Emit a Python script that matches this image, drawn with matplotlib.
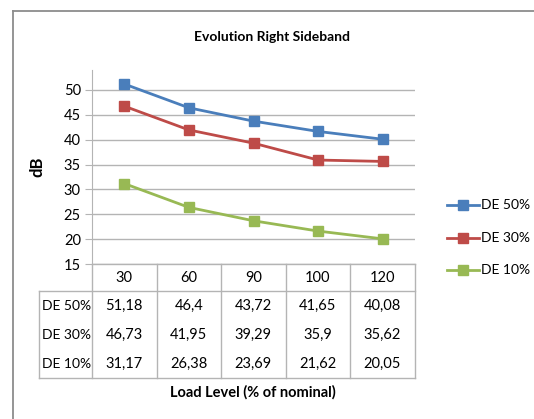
import matplotlib
matplotlib.use("Agg")
import matplotlib.pyplot as plt
from matplotlib.lines import Line2D

plt.rcParams['font.family'] = ['Lato', 'DejaVu Sans']

loads = ["30", "60", "90", "100", "120"]
series_names = ["DE 50%", "DE 30%", "DE 10%"]
de50 = [51.18, 46.4, 43.72, 41.65, 40.08]
de30 = [46.73, 41.95, 39.29, 35.9, 35.62]
de10 = [31.17, 26.38, 23.69, 21.62, 20.05]
yticks = [15, 20, 25, 30, 35, 40, 45, 50]
colors = ["#4a7ebb", "#be4b48", "#98b954"]

W, H = 534, 419
fig = plt.figure(figsize=(W / 100, H / 100), dpi=100)


def fx(px):
    return px / W


def fy(py):
    return 1 - py / H


def hline(x0, x1, y, color="#b4b4b4", lw=1.0):
    fig.add_artist(Line2D([fx(x0), fx(x1)], [fy(y), fy(y)], color=color, lw=lw,
                          transform=fig.transFigure))


def vline(x, y0, y1, color="#b4b4b4", lw=1.0):
    fig.add_artist(Line2D([fx(x), fx(x)], [fy(y0), fy(y1)], color=color, lw=lw,
                          transform=fig.transFigure))


# chart frame
hline(13, W + 5, 11, color="#8c8c8c", lw=1.3)
vline(13, 11, H + 5, color="#8c8c8c", lw=1.3)

left, right, top, bottom = 92, 415, 70, 264
ax = fig.add_axes([fx(left), fy(bottom), fx(right - left), (bottom - top) / H])

all_series = [de50, de30, de10]
x = list(range(len(loads)))
for vals, name, c in zip(all_series, series_names, colors):
    ax.plot(x, vals, color=c, lw=2.0, marker="s", markersize=6.5, label=name,
            solid_capstyle="round", zorder=3)

ax.set_xlim(-0.5, len(loads) - 0.5)
ax.set_ylim(15, 54)
ax.set_yticks(yticks)
ax.set_yticklabels([str(t) for t in yticks], fontsize=10.5)
ax.set_xticks([])
ax.grid(axis="y", color="#b4b4b4", lw=1.0)
ax.set_axisbelow(True)
for s in ["top", "right", "bottom"]:
    ax.spines[s].set_visible(False)
ax.spines["left"].set_color("#b4b4b4")
ax.tick_params(axis="y", length=5, color="#b4b4b4", pad=3)

ax.set_ylabel("dB", fontsize=12, fontweight="bold", labelpad=13)
fig.text(fx(272), fy(37), "Evolution Right Sideband", ha="center", va="center",
         fontsize=10, fontweight="bold")

# data table under the plot
col_edges = [92, 156.5, 221, 285.5, 350, 415]
table_left = 39
header_bottom = 291
row_centers = [306, 335, 364]
table_bottom = 378

hline(left, right, bottom)
hline(table_left, right, header_bottom)
hline(table_left, right, table_bottom)
vline(table_left, header_bottom, table_bottom)
for xe in col_edges:
    vline(xe, bottom, table_bottom)

for i, lab in enumerate(loads):
    cx = (col_edges[i] + col_edges[i + 1]) / 2
    fig.text(fx(cx), fy(278), lab, ha="center", va="center", fontsize=10.5)

for r, (vals, name) in enumerate(zip(all_series, series_names)):
    fig.text(fx(table_left + 3), fy(row_centers[r]), name, ha="left", va="center",
             fontsize=10)
    for i, v in enumerate(vals):
        cx = (col_edges[i] + col_edges[i + 1]) / 2
        fig.text(fx(cx), fy(row_centers[r]), f"{v:g}".replace(".", ","),
                 ha="center", va="center", fontsize=10.5)

fig.text(fx(253), fy(392), "Load Level (% of nominal)", ha="center", va="center",
         fontsize=10.5, fontweight="bold")

# legend
legend_y = [205, 238, 270]
for yy, name, c in zip(legend_y, series_names, colors):
    fig.add_artist(Line2D([fx(447), fx(479)], [fy(yy), fy(yy)], color=c, lw=2.0,
                          transform=fig.transFigure))
    fig.add_artist(Line2D([fx(463)], [fy(yy)], color=c, marker="s", markersize=6.5,
                          transform=fig.transFigure))
    fig.text(fx(481), fy(yy), name, ha="left", va="center", fontsize=10)

fig.savefig("out.png", dpi=100)
